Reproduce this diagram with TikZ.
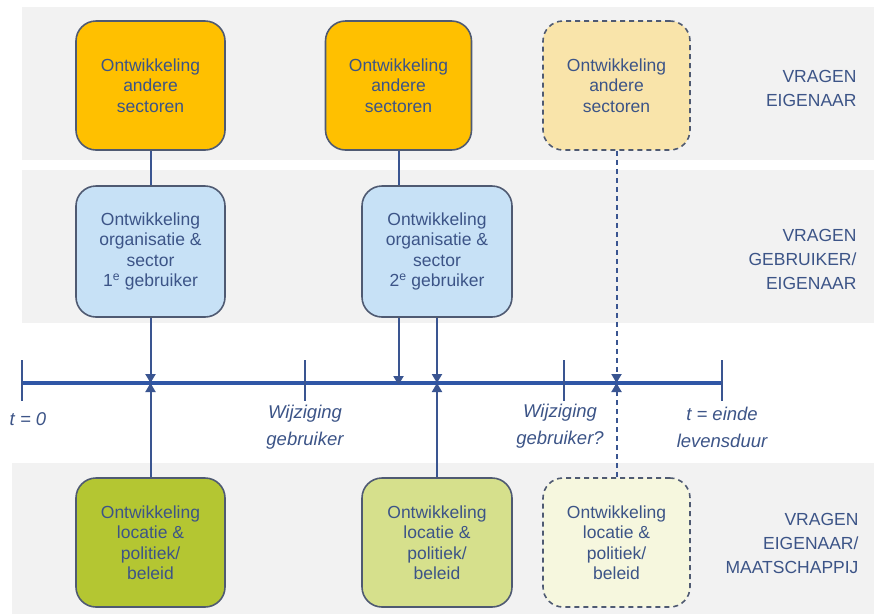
\documentclass[tikz,border=0pt]{standalone}
\usepackage{fontspec}
\setmainfont{Liberation Sans}
\usetikzlibrary{arrows.meta}

\definecolor{bandgrey}{HTML}{F2F2F2}
\definecolor{orangebox}{HTML}{FFC000}
\definecolor{orangelight}{HTML}{F9E4AA}
\definecolor{bluebox}{HTML}{C7E1F6}
\definecolor{greenbox}{HTML}{B4C632}
\definecolor{greenmid}{HTML}{D6E08C}
\definecolor{greenlight}{HTML}{F6F7DE}
\definecolor{boxline}{HTML}{4F5A72}
\definecolor{txtblue}{HTML}{3C5487}
\definecolor{axisblue}{HTML}{2F56A6}
\definecolor{connblue}{HTML}{3A5591}

\begin{document}
\begin{tikzpicture}[x=1pt, y=-1pt,
    devbox/.style={draw=boxline, line width=1.6pt, rounded corners=20pt, minimum width=149pt, minimum height=129pt, align=center, text=txtblue, font=\fontsize{17.5}{20.5}\selectfont},
    openbox/.style={devbox, dash pattern=on 5pt off 4pt},
    conn/.style={draw=connblue, line width=2pt},
    tip/.style={-{Triangle[width=10pt, length=9pt]}},
    tick/.style={draw=connblue, line width=1.6pt},
    timelbl/.style={align=center, text=txtblue, font=\fontsize{18.5}{27}\selectfont\itshape},
    rowlbl/.style={anchor=east, align=right, text=txtblue, font=\fontsize{17.5}{24}\selectfont}]
    \useasboundingbox (0,0) rectangle (874,614);

    % bands
    \fill[bandgrey] (22,7) rectangle (874,160);
    \fill[bandgrey] (22,170) rectangle (874,323);
    \fill[bandgrey] (12,463) rectangle (874,614);

    % timeline
    \coordinate (tl) at (22,383);
    \coordinate (tr) at (722,383);
    \draw[axisblue, line width=4.5pt] (tl) -- (tr);
    \foreach \tx in {22,305,564,722}
        \draw[tick] (\tx,360) -- (\tx,401);

    % boxes
    \node[devbox, fill=orangebox] (A1) at (150.5,85.5) {Ontwikkeling\\andere\\sectoren};
    \node[devbox, fill=orangebox, minimum width=146pt] (A2) at (398.5,85.5) {Ontwikkeling\\andere\\sectoren};
    \node[openbox, fill=orangelight, minimum width=147pt] (A3) at (616.5,85.5) {Ontwikkeling\\andere\\sectoren};
    \node[devbox, fill=bluebox, minimum height=131pt] (B1) at (150.5,251.5) {Ontwikkeling\\organisatie \&\\sector\\1\textsuperscript{e} gebruiker};
    \node[devbox, fill=bluebox, minimum height=131pt, minimum width=150pt] (B2) at (437,251.5) {Ontwikkeling\\organisatie \&\\sector\\2\textsuperscript{e} gebruiker};
    \node[devbox, fill=greenbox] (C1) at (150.5,542.5) {Ontwikkeling\\locatie \&\\politiek/\\beleid};
    \node[devbox, fill=greenmid, minimum width=150pt] (C2) at (437,542.5) {Ontwikkeling\\locatie \&\\politiek/\\beleid};
    \node[openbox, fill=greenlight, minimum width=147pt] (C3) at (616.5,542.5) {Ontwikkeling\\locatie \&\\politiek/\\beleid};

    % connectors
    \draw[conn] (A1) -- (B1);
    \draw[conn, tip] (B1.south) -- (B1.south |- tl);
    \draw[conn, tip] (C1.north) -- (C1.north |- tl);
    \draw[conn] (A2.south) -- (A2.south |- B2.north);
    \draw[conn, tip] (A2.south |- B2.south) -- ([yshift=-2pt]A2.south |- tl);
    \draw[conn, tip] (B2.south) -- (B2.south |- tl);
    \draw[conn, tip] (C2.north) -- (C2.north |- tl);
    \draw[conn, dash pattern=on 5pt off 4pt, tip] (A3.south) -- (A3.south |- tl);
    \draw[conn, dash pattern=on 5pt off 4pt, tip] (C3.north) -- (C3.north |- tl);

    % time labels
    \node[timelbl] (t0) at (28,419) {t = 0};
    \node[timelbl] (wijz1) at (305,427) {Wijziging\\gebruiker};
    \node[timelbl] (wijz2) at (560,426) {Wijziging\\gebruiker?};
    \node[timelbl] (tend) at (722,427) {t = einde\\levensduur};

    % row labels
    \node[rowlbl] (vr1) at (860,88) {VRAGEN\\EIGENAAR};
    \node[rowlbl] (vr2) at (860,259) {VRAGEN\\GEBRUIKER/\\EIGENAAR};
    \node[rowlbl] (vr3) at (862,543) {VRAGEN\\EIGENAAR/\\MAATSCHAPPIJ};
\end{tikzpicture}
\end{document}
